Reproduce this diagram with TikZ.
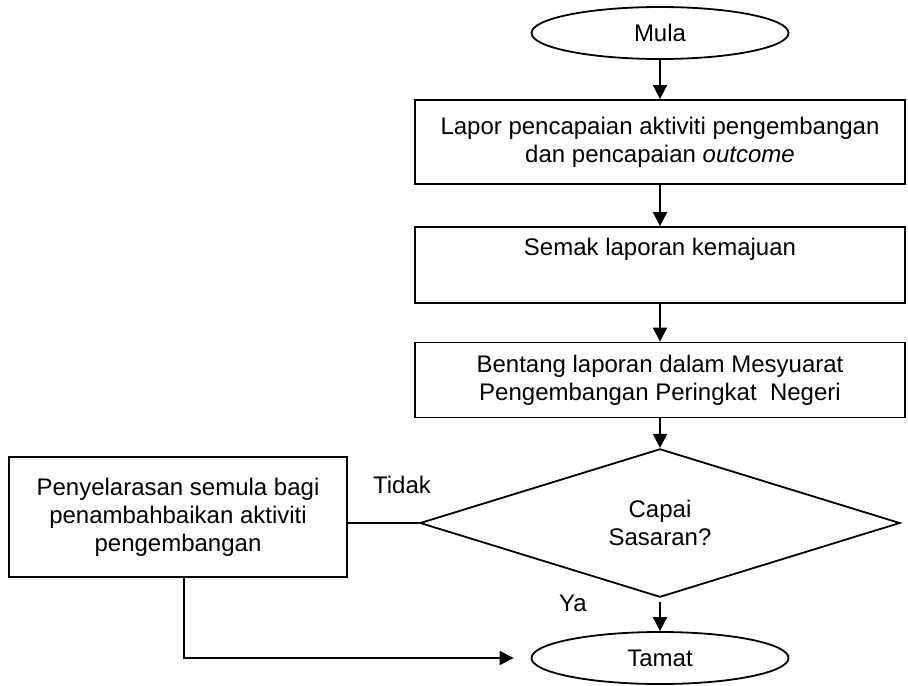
\documentclass[tikz,border=0pt]{standalone}
\usepackage{fontspec}
\setmainfont{Liberation Sans}
\usetikzlibrary{arrows.meta, shapes.geometric}

\begin{document}
\begin{tikzpicture}[
    x=0.5pt, y=-0.5pt, font=\fontsize{12}{14}\selectfont,
    linea/.style={draw=black, line width=0.9pt},
    flecha/.style={linea, -{Triangle[length=7pt, width=7pt]}},
    caja/.style={linea, rectangle, align=center, inner sep=0pt},
    term/.style={linea, ellipse, inner sep=0pt, minimum width=128.5pt, minimum height=26pt},
    rombo/.style={linea, diamond, align=center, inner sep=0pt, minimum width=240pt, minimum height=68.5pt},
    etiq/.style={inner sep=0pt},
]

\def\cx{660}   % eje vertical del flujo principal

\useasboundingbox (0,0) rectangle (908,685);

% ===================== Flujo principal =====================
\node[term] (mula) at (\cx,33) {Mula};
\node[caja, minimum width=245pt, minimum height=42pt] (lapor) at (\cx,142)
      {Lapor pencapaian aktiviti pengembangan\\dan pencapaian \textit{outcome}};
\node[caja, minimum width=245pt, minimum height=38pt] (semak) at (\cx,265)
      {Semak laporan kemajuan\\\strut};
\node[caja, minimum width=245pt, minimum height=37.5pt] (bentang) at (\cx,380)
      {Bentang laporan dalam Mesyuarat\\Pengembangan Peringkat~ Negeri};
\node[rombo] (capai) at (\cx,523) {Capai\\Sasaran?};
\node[term] (tamat) at (\cx,658) {Tamat};

% ===================== Rama "Tidak" =====================
\node[caja, minimum width=169pt, minimum height=60pt] (selaras) at (178,517)
      {Penyelarasan semula bagi\\penambahbaikan aktiviti\\pengembangan};

\node[etiq] (tidak) at (402,485) {Tidak};
\node[etiq] (ya) at (573,603) {Ya};

% ===================== Conectores =====================
\draw[flecha] (mula) -- (lapor);
\draw[flecha] (lapor) -- (semak);
\draw[flecha] (semak) -- (bentang);
\draw[flecha] (bentang) -- (capai);
\draw[flecha, shorten <=2pt] (capai) -- (tamat);
\draw[linea] (capai.west) -- (capai.west -| selaras.east);
\draw[flecha, shorten >=8.5pt] ([xshift=3pt]selaras.south) |- (tamat.west);

\end{tikzpicture}
\end{document}
